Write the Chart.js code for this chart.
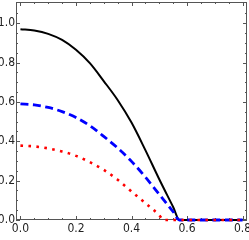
<!DOCTYPE html>
<html>
<head>
<meta charset="utf-8">
<script src="https://cdn.jsdelivr.net/npm/chart.js@4/dist/chart.umd.min.js"></script>
<style>
  html, body { margin: 0; padding: 0; background: #fff; }
  #wrap { width: 249px; height: 240px; }
</style>
</head>
<body>
<div id="wrap"><canvas id="plot"></canvas></div>
<script>
// values
const blackX = [0, 0.05, 0.1, 0.15, 0.2, 0.25, 0.3, 0.35, 0.4, 0.45, 0.5, 0.55, 0.573, 0.65, 0.8];
const blackY = [0.97, 0.963, 0.946, 0.915, 0.865, 0.797, 0.706, 0.61, 0.495, 0.355, 0.207, 0.066, 0, 0, 0];

const blueX = [0, 0.05, 0.1, 0.15, 0.2, 0.25, 0.3, 0.35, 0.4, 0.45, 0.5, 0.55, 0.572, 0.65, 0.8];
const blueY = [0.59, 0.585, 0.572, 0.551, 0.521, 0.479, 0.425, 0.366, 0.298, 0.218, 0.13, 0.042, 0, 0, 0];

const redX = [0, 0.05, 0.1, 0.15, 0.2, 0.25, 0.3, 0.35, 0.4, 0.45, 0.5, 0.515, 0.6, 0.8];
const redY = [0.378, 0.374, 0.364, 0.348, 0.326, 0.294, 0.255, 0.205, 0.145, 0.086, 0.024, 0, 0, 0];

const xTicks = [0, 0.2, 0.4, 0.6, 0.8];
const yTicks = [0, 0.2, 0.4, 0.6, 0.8, 1.0];
const minorStep = 0.05;

function pts(xs, ys) {
    return xs.map((x, i) => ({ x: x, y: ys[i] }));
}

// Mathematica style frame with inward ticks on all four sides
const frame = {
    id: 'frame',
    beforeDatasetsDraw(chart) {
        const { ctx, chartArea: a, scales } = chart;
        ctx.save();
        ctx.strokeStyle = '#555';
        ctx.lineWidth = 1;
        ctx.strokeRect(a.left + 0.5, a.top + 0.5, a.right - a.left - 1, a.bottom - a.top - 1);
        ctx.beginPath();
        for (let v = 0; v <= 0.8001; v += minorStep) {
            const major = Math.abs(v / 0.2 - Math.round(v / 0.2)) < 1e-6;
            const len = major ? 4 : 2;
            const px = Math.round(scales.x.getPixelForValue(v)) + 0.5;
            ctx.moveTo(px, a.bottom); ctx.lineTo(px, a.bottom - len);
            ctx.moveTo(px, a.top); ctx.lineTo(px, a.top + len);
        }
        for (let v = 0; v <= 1.1; v += minorStep) {
            const major = Math.abs(v / 0.2 - Math.round(v / 0.2)) < 1e-6;
            const len = major ? 4 : 2;
            const py = Math.round(scales.y.getPixelForValue(v)) + 0.5;
            ctx.moveTo(a.left, py); ctx.lineTo(a.left + len, py);
            ctx.moveTo(a.right, py); ctx.lineTo(a.right - len, py);
        }
        ctx.stroke();
        ctx.restore();
    }
};

const tickFont = { family: "'Liberation Sans Narrow', 'DejaVu Sans Condensed', sans-serif", size: 12 };

new Chart(document.getElementById('plot'), {
    type: 'line',
    data: {
        datasets: [
            {
                data: pts(redX, redY),
                borderColor: '#ff0000',
                borderWidth: 2.6,
                borderDash: [2.6, 5.4]
            },
            {
                data: pts(blueX, blueY),
                borderColor: '#0000ff',
                borderWidth: 2.8,
                borderDash: [8, 4.5]
            },
            {
                data: pts(blackX, blackY),
                borderColor: '#000000',
                borderWidth: 2
            }
        ]
    },
    options: {
        animation: false,
        responsive: true,
        maintainAspectRatio: false,
        layout: { padding: { top: 2, right: 2, left: 0, bottom: 0 } },
        elements: {
            point: { radius: 0 },
            line: { cubicInterpolationMode: 'monotone', fill: false }
        },
        datasets: { line: { clip: false } },
        plugins: {
            legend: { display: false },
            tooltip: { enabled: false }
        },
        scales: {
            x: {
                type: 'linear',
                min: -0.016,
                max: 0.816,
                grid: { display: false, drawTicks: false },
                border: { display: false },
                afterBuildTicks: (s) => { s.ticks = xTicks.map((v) => ({ value: v })); },
                afterFit: (s) => { s.height = 20; s.paddingLeft = 0; s.paddingRight = 0; },
                ticks: {
                    color: '#222',
                    font: tickFont,
                    padding: 2,
                    maxRotation: 0,
                    autoSkip: false,
                    callback: (v) => v.toFixed(1)
                }
            },
            y: {
                type: 'linear',
                min: 0,
                max: 1.108,
                grid: { display: false, drawTicks: false },
                border: { display: false },
                afterBuildTicks: (s) => { s.ticks = yTicks.map((v) => ({ value: v })); },
                afterFit: (s) => { s.width = 16; s.paddingTop = 0; s.paddingBottom = 0; },
                ticks: {
                    color: '#222',
                    font: tickFont,
                    padding: 1,
                    autoSkip: false,
                    callback: (v) => v.toFixed(1)
                }
            }
        }
    },
    plugins: [frame]
});
</script>
</body>
</html>
